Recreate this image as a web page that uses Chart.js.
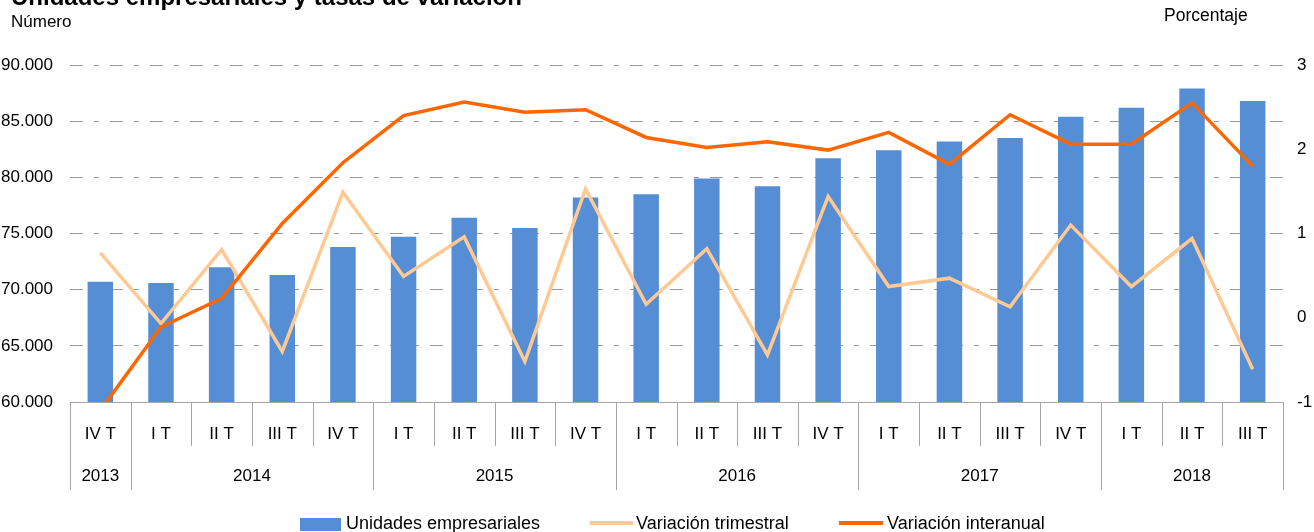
<!DOCTYPE html>
<html>
<head>
<meta charset="utf-8">
<script src="https://cdn.jsdelivr.net/npm/chart.js@4.4.1/dist/chart.umd.min.js"></script>
<style>
  body { margin: 0; background: #fff; font-family: "Liberation Sans", Arial, sans-serif; color: #000; }
  #wrap { position: relative; width: 1314px; height: 532px; overflow: hidden; }
  #chart { position: absolute; left: 0; top: 0; }
  .txt { position: absolute; white-space: nowrap; }
  #title { left: 11px; top: -17px; font-size: 24px; font-weight: bold; }
  #numero { left: 11px; top: 12px; font-size: 17px; }
  #porc { left: 1164px; top: 5px; font-size: 17.5px; }
  .leg { position: absolute; top: 513px; font-size: 18px; white-space: nowrap; }
  .sw { position: absolute; }
</style>
</head>
<body>
<div id="wrap">
  <canvas id="chart" width="1314" height="532"></canvas>
  <div class="txt" id="title">Unidades empresariales y tasas de variación</div>
  <div class="txt" id="numero">Número</div>
  <div class="txt" id="porc">Porcentaje</div>
  <div class="sw" style="left:300px;top:518px;width:41px;height:13px;background:#558ed5"></div>
  <div class="leg" style="left:346px">Unidades empresariales</div>
  <div class="sw" style="left:590px;top:521px;width:43px;height:4px;background:#ffc994"></div>
  <div class="leg" style="left:636px">Variación trimestral</div>
  <div class="sw" style="left:839px;top:521px;width:44px;height:4px;background:#ff6600"></div>
  <div class="leg" style="left:887px">Variación interanual</div>
</div>
<script>
// trimestres y años
var quarters = ['IV T', 'I T', 'II T', 'III T', 'IV T', 'I T', 'II T', 'III T', 'IV T',
  'I T', 'II T', 'III T', 'IV T', 'I T', 'II T', 'III T', 'IV T', 'I T', 'II T', 'III T']
var years = ['2013', '2014', '2014', '2014', '2014', '2015', '2015', '2015', '2015',
  '2016', '2016', '2016', '2016', '2017', '2017', '2017', '2017', '2018', '2018', '2018']

// series
var unidades = [70700, 70600, 72000, 71300, 73800, 74700, 76400, 75500, 78200,
  78500, 79900, 79200, 81700, 82400, 83200, 83500, 85400, 86200, 87900, 86800]
var trimestral = [0.77, -0.07, 0.81, -0.40, 1.49, 0.49, 0.96, -0.52, 1.53,
  0.16, 0.82, -0.44, 1.44, 0.37, 0.47, 0.13, 1.10, 0.37, 0.94, -0.61]
var interanual = [-1.1, -0.11, 0.23, 1.12, 1.84, 2.40, 2.56, 2.44, 2.47,
  2.14, 2.02, 2.09, 1.99, 2.20, 1.82, 2.41, 2.06, 2.06, 2.55, 1.80]

var leftTicks = [60000, 65000, 70000, 75000, 80000, 85000, 90000]
var rightTicks = [-1, 0, 1, 2, 3]

var tickFont = { family: '"Liberation Sans", Arial, sans-serif', size: 17 }

function fmt(v) {
  return String(v).replace(/\B(?=(\d{3})+(?!\d))/g, '.')
}

// fila de años y separadores bajo el eje
var yearRow = {
  id: 'yearRow',
  afterDraw: function (chart) {
    var ctx = chart.ctx
    var x = chart.scales.x
    var n = quarters.length
    var step = (x.right - x.left) / n
    var base = x.top
    ctx.save()
    ctx.strokeStyle = '#a6a6a6'
    ctx.lineWidth = 1
    for (var i = 0; i <= n; i++) {
      var px = Math.round(x.left + step * i) + 0.5
      var newYear = i == 0 || i == n || years[i] != years[i - 1]
      ctx.beginPath()
      ctx.moveTo(px, base)
      ctx.lineTo(px, base + (newYear ? 88 : 44))
      ctx.stroke()
    }
    ctx.fillStyle = '#000'
    ctx.font = '17px "Liberation Sans", Arial, sans-serif'
    ctx.textAlign = 'center'
    ctx.textBaseline = 'middle'
    var start = 0
    for (var j = 1; j <= n; j++) {
      if (j == n || years[j] != years[start]) {
        var cx = (x.getPixelForValue(start) + x.getPixelForValue(j - 1)) / 2
        ctx.fillText(years[start], cx, base + 74)
        start = j
      }
    }
    ctx.restore()
  }
}

new Chart(document.getElementById('chart'), {
  type: 'bar',
  data: {
    labels: quarters,
    datasets: [
      {
        type: 'line',
        label: 'Variación interanual',
        data: interanual,
        yAxisID: 'y1',
        borderColor: '#ff6600',
        backgroundColor: '#ff6600',
        borderWidth: 3.5,
        pointRadius: 0,
        tension: 0,
        order: 1
      },
      {
        type: 'line',
        label: 'Variación trimestral',
        data: trimestral,
        yAxisID: 'y1',
        borderColor: '#ffc994',
        backgroundColor: '#ffc994',
        borderWidth: 3.5,
        pointRadius: 0,
        tension: 0,
        order: 2
      },
      {
        label: 'Unidades empresariales',
        data: unidades,
        yAxisID: 'y',
        backgroundColor: '#558ed5',
        barPercentage: 0.42,
        categoryPercentage: 1,
        order: 3
      }
    ]
  },
  options: {
    responsive: false,
    animation: false,
    layout: { padding: { top: 65, left: 0, right: 0, bottom: 0 } },
    plugins: {
      legend: { display: false },
      tooltip: { enabled: false }
    },
    scales: {
      x: {
        offset: true,
        grid: { display: false },
        border: { display: true, color: '#a6a6a6', width: 1 },
        ticks: { color: '#000', font: tickFont, padding: 14, maxRotation: 0, autoSkip: false },
        afterFit: function (s) { s.height = 130 }
      },
      y: {
        position: 'left',
        min: leftTicks[0],
        max: leftTicks[leftTicks.length - 1],
        afterBuildTicks: function (s) { s.ticks = leftTicks.map(function (v) { return { value: v } }) },
        grid: { color: '#999', lineWidth: 1, drawTicks: false },
        border: { display: false, dash: [13, 11, 5, 11] },
        ticks: { color: '#000', font: tickFont, padding: 17, callback: function (v) { return fmt(v) } },
        afterFit: function (s) { s.width = 70 }
      },
      y1: {
        position: 'right',
        min: rightTicks[0],
        max: rightTicks[rightTicks.length - 1],
        afterBuildTicks: function (s) { s.ticks = rightTicks.map(function (v) { return { value: v } }) },
        grid: { drawOnChartArea: false, drawTicks: false },
        border: { display: false },
        ticks: { color: '#000', font: tickFont, padding: 14 },
        afterFit: function (s) { s.width = 31 }
      }
    }
  },
  plugins: [yearRow]
})
</script>
</body>
</html>
